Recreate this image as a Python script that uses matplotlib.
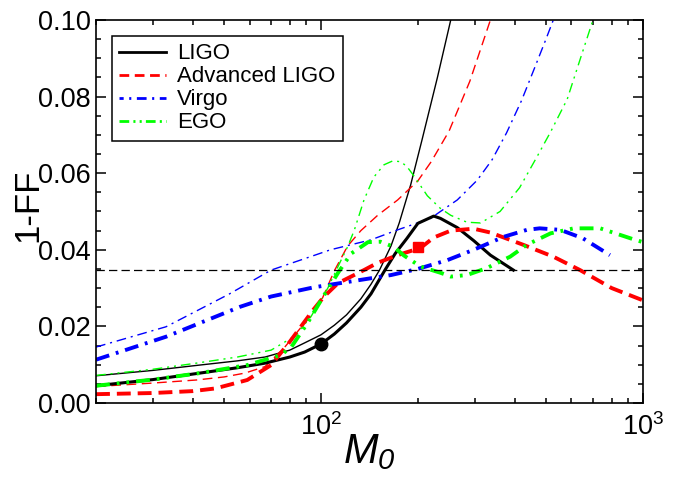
import matplotlib
matplotlib.use("Agg")
import matplotlib.pyplot as plt
from matplotlib.lines import Line2D
from matplotlib.ticker import MultipleLocator, FormatStrFormatter, LogLocator

plt.rcParams['font.family'] = ['Liberation Sans', 'DejaVu Sans']
plt.rcParams['mathtext.fontset'] = 'custom'
plt.rcParams['mathtext.rm'] = 'Liberation Sans'
plt.rcParams['mathtext.it'] = 'Liberation Sans:italic'
plt.rcParams['mathtext.sf'] = 'Liberation Sans:italic'  # italic digits for the subscript
plt.rcParams['lines.scale_dashes'] = False

# thin curves (upper family) and thick curves (lower family), M0 vs 1-FF
ligo_thin_m = [20, 30, 42, 55, 67, 80, 89, 100, 110, 120, 133, 143, 152, 165, 175, 190, 206, 230, 253]
ligo_thin_y = [0.0071, 0.0085, 0.0099, 0.0110, 0.0120, 0.0138, 0.0157, 0.0178, 0.0203, 0.0230, 0.0272,
               0.0310, 0.0347, 0.0410, 0.0470, 0.0570, 0.0687, 0.0850, 0.1000]
ligo_thick_m = [20, 30, 42, 55, 67, 80, 89, 100, 110, 120, 133, 143, 158, 170, 185, 200, 224, 235, 265,
                298, 336, 396]
ligo_thick_y = [0.0045, 0.0061, 0.0078, 0.0092, 0.0104, 0.0120, 0.0133, 0.0154, 0.0180, 0.0209, 0.0250,
                0.0285, 0.0347, 0.0390, 0.0430, 0.0469, 0.0488, 0.0482, 0.0458, 0.0424, 0.0386, 0.0347]

adv_thin_m = [20, 30, 41, 50, 58, 67, 77, 89, 100, 110, 121, 133, 150, 173, 200, 220, 250, 290, 336]
adv_thin_y = [0.0043, 0.0052, 0.0060, 0.0068, 0.0078, 0.0095, 0.0145, 0.0209, 0.0265, 0.0345, 0.0410,
              0.0450, 0.0490, 0.0530, 0.0580, 0.0630, 0.0710, 0.0840, 0.1000]
adv_thick_m = [20, 30, 40, 47, 59, 70, 80, 95, 102, 113, 124, 136, 150, 173, 204, 224, 253, 298, 336,
               425, 527, 638, 800, 1000]
adv_thick_y = [0.0023, 0.0026, 0.0031, 0.0038, 0.0060, 0.0099, 0.0160, 0.0245, 0.0277, 0.0313, 0.0330,
               0.0347, 0.0366, 0.0386, 0.0405, 0.0432, 0.0450, 0.0455, 0.0445, 0.0413, 0.0382, 0.0347,
               0.0300, 0.0268]

virgo_thin_m = [20, 33, 52, 70, 95, 107, 143, 173, 219, 235, 265, 306, 340, 377, 420, 462, 500, 527]
virgo_thin_y = [0.0146, 0.0199, 0.0285, 0.0347, 0.0385, 0.0400, 0.0426, 0.0452, 0.0482, 0.0500, 0.0530,
                0.0582, 0.0635, 0.0705, 0.0790, 0.0877, 0.0950, 0.1000]
virgo_thick_m = [20, 33, 41, 56, 70, 95, 121, 165, 200, 247, 298, 370, 436, 478, 554, 651, 790]
virgo_thick_y = [0.0113, 0.0173, 0.0205, 0.0251, 0.0278, 0.0302, 0.0316, 0.0334, 0.0350, 0.0373, 0.0400,
                 0.0434, 0.0452, 0.0456, 0.0452, 0.0430, 0.0386]

ego_thin_m = [20, 30, 41, 55, 70, 83, 93, 105, 115, 121, 127, 136, 146, 157, 167, 177, 185, 194, 214, 235,
              253, 284, 313, 360, 414, 469, 517, 582, 640, 700]
ego_thin_y = [0.0072, 0.0088, 0.0104, 0.0120, 0.0138, 0.0175, 0.0225, 0.0300, 0.0370, 0.0408, 0.0452,
              0.0530, 0.0590, 0.0622, 0.0632, 0.0630, 0.0617, 0.0594, 0.0541, 0.0508, 0.0490, 0.0472,
              0.0470, 0.0500, 0.0562, 0.0643, 0.0708, 0.0793, 0.0900, 0.1000]
ego_thick_m = [20, 30, 42, 59, 75, 81, 91, 102, 113, 124, 140, 153, 168, 181, 204, 235, 253, 284, 327,
               387, 436, 517, 610, 737, 930, 1000]
ego_thick_y = [0.0045, 0.0061, 0.0078, 0.0099, 0.0125, 0.0147, 0.0210, 0.0280, 0.0340, 0.0390, 0.0420,
               0.0421, 0.0408, 0.0385, 0.0356, 0.0340, 0.0330, 0.0334, 0.0352, 0.0382, 0.0413, 0.0443,
               0.0456, 0.0456, 0.0428, 0.0420]

threshold = 0.0347
dot_m, dot_y = 100, 0.0154
square_m, square_y = 200, 0.0408

labels = ['LIGO', 'Advanced LIGO', 'Virgo', 'EGO']
colors = ['black', '#ff0000', '#0000ff', '#00ff00']

fig = plt.figure(figsize=(6.81, 4.79), dpi=100)
ax = fig.add_axes([0.141, 0.1587, 0.803, 0.7996])

thin_ls = ['-', (0, (7, 4)), (0, (7, 3.5, 1.5, 3.5)), (0, (7, 3.5, 1.5, 3.5, 1.5, 3.5))]
thick_ls = ['-', (0, (10, 5)), (0, (10, 5, 2, 5)), (0, (10, 5, 2, 5, 2, 5))]

thin = [(ligo_thin_m, ligo_thin_y), (adv_thin_m, adv_thin_y),
        (virgo_thin_m, virgo_thin_y), (ego_thin_m, ego_thin_y)]
thick = [(ligo_thick_m, ligo_thick_y), (adv_thick_m, adv_thick_y),
         (virgo_thick_m, virgo_thick_y), (ego_thick_m, ego_thick_y)]

for i in range(4):
    ax.plot(thin[i][0], thin[i][1], color=colors[i], ls=thin_ls[i], lw=1.0)
for i in range(4):
    lw = 2.2 if i == 0 else 2.8
    ax.plot(thick[i][0], thick[i][1], color=colors[i], ls=thick_ls[i], lw=lw)

ax.axhline(threshold, color='black', ls=(0, (6, 3)), lw=0.9)
ax.plot([dot_m], [dot_y], 'o', color='black', ms=9)
ax.plot([square_m], [square_y], 's', color='#ff0000', ms=7)

ax.set_xscale('log')
ax.set_xlim(20, 1000)
ax.set_ylim(0, 0.1)
ax.yaxis.set_major_locator(MultipleLocator(0.02))
ax.yaxis.set_minor_locator(MultipleLocator(0.005))
ax.yaxis.set_major_formatter(FormatStrFormatter('%.2f'))
ax.xaxis.set_major_locator(LogLocator(base=10))
ax.xaxis.set_minor_locator(LogLocator(base=10, subs=range(2, 10)))

ax.tick_params(which='both', direction='in', top=True, right=True, width=1.1)
ax.tick_params(which='major', length=7, labelsize=19.5)
ax.tick_params(which='minor', length=3.5)
ax.tick_params(axis='x', which='major', pad=7)
ax.tick_params(axis='y', which='major', pad=4)
for s in ax.spines.values():
    s.set_linewidth(1.2)

ax.set_xlabel(r'$M_{\mathsf{0}}$', fontsize=30, labelpad=-6)
ax.set_ylabel('1-FF', fontsize=25)
ax.yaxis.set_label_coords(-0.095, 0.515)

handles = [Line2D([], [], color=colors[0], ls='-', lw=2),
           Line2D([], [], color=colors[1], ls=(0, (7, 4)), lw=2),
           Line2D([], [], color=colors[2], ls=(4, (7, 4, 1.5, 4)), lw=2),
           Line2D([], [], color=colors[3], ls=(0, (7, 3, 1.5, 3, 1.5, 3)), lw=2)]
leg = ax.legend(handles, labels, loc='upper left', fontsize=16, frameon=True, fancybox=False,
                edgecolor='black', framealpha=1, handlelength=2.1, handletextpad=0.5,
                labelspacing=0.09, borderpad=0.35, borderaxespad=0.7)
leg.get_frame().set_linewidth(1.1)

fig.savefig('out.png', dpi=100)
